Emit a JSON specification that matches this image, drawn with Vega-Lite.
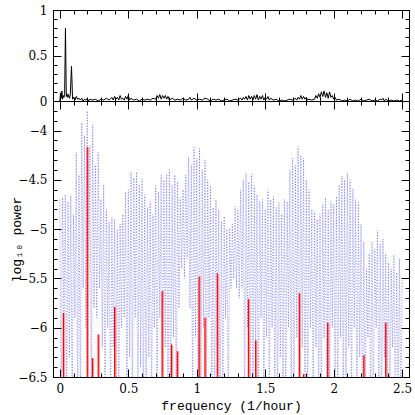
{
  "$schema": "https://vega.github.io/schema/vega-lite/v6.json",
  "padding": {"left": 10, "top": 3, "right": 5, "bottom": 2},
  "spacing": 0,
  "bounds": "flush",
  "config": {
    "view": {"stroke": "black", "strokeWidth": 1},
    "axis": {"grid": false, "domainColor": "black", "domainWidth": 1, "tickColor": "black", "tickWidth": 1, "labelColor": "black", "labelFont": "DejaVu Serif", "labelFontSize": 12, "titleFont": "Liberation Mono", "titleFontSize": 13, "titleFontWeight": "normal", "titleColor": "black", "format": "~g"}
  },
  "datasets": {
    "top": [
      {"f":0.000,"p":0.00},{"f":0.005,"p":0.09},{"f":0.010,"p":0.03},{"f":0.015,"p":0.11},{"f":0.020,"p":0.02},{"f":0.025,"p":0.06},{"f":0.030,"p":0.04},{"f":0.035,"p":0.07},{"f":0.041,"p":0.80},{"f":0.047,"p":0.05},{"f":0.052,"p":0.08},{"f":0.058,"p":0.04},{"f":0.064,"p":0.07},{"f":0.070,"p":0.03},{"f":0.076,"p":0.06},{"f":0.085,"p":0.38},{"f":0.093,"p":0.02},{"f":0.100,"p":0.04},{"f":0.110,"p":0.01},{"f":0.120,"p":0.05},{"f":0.130,"p":0.02},{"f":0.140,"p":0.03},{"f":0.150,"p":0.01},{"f":0.160,"p":0.03},{"f":0.170,"p":0.00},{"f":0.180,"p":0.02},{"f":0.190,"p":0.01},{"f":0.200,"p":0.03},{"f":0.210,"p":0.00},{"f":0.220,"p":0.02},{"f":0.240,"p":0.01},{"f":0.260,"p":0.02},{"f":0.280,"p":0.00},{"f":0.300,"p":0.02},{"f":0.320,"p":0.01},{"f":0.340,"p":0.03},{"f":0.360,"p":0.01},{"f":0.380,"p":0.04},{"f":0.390,"p":0.01},{"f":0.400,"p":0.05},{"f":0.410,"p":0.02},{"f":0.420,"p":0.04},{"f":0.430,"p":0.01},{"f":0.440,"p":0.06},{"f":0.450,"p":0.02},{"f":0.460,"p":0.03},{"f":0.470,"p":0.01},{"f":0.480,"p":0.05},{"f":0.490,"p":0.02},{"f":0.500,"p":0.06},{"f":0.510,"p":0.01},{"f":0.520,"p":0.03},{"f":0.540,"p":0.01},{"f":0.560,"p":0.02},{"f":0.580,"p":0.00},{"f":0.600,"p":0.02},{"f":0.620,"p":0.01},{"f":0.640,"p":0.02},{"f":0.660,"p":0.01},{"f":0.680,"p":0.03},{"f":0.700,"p":0.02},{"f":0.710,"p":0.06},{"f":0.720,"p":0.03},{"f":0.730,"p":0.07},{"f":0.740,"p":0.02},{"f":0.750,"p":0.06},{"f":0.760,"p":0.03},{"f":0.770,"p":0.06},{"f":0.780,"p":0.02},{"f":0.790,"p":0.05},{"f":0.800,"p":0.01},{"f":0.820,"p":0.03},{"f":0.840,"p":0.01},{"f":0.860,"p":0.02},{"f":0.880,"p":0.01},{"f":0.900,"p":0.03},{"f":0.920,"p":0.01},{"f":0.940,"p":0.02},{"f":0.950,"p":0.04},{"f":0.960,"p":0.01},{"f":0.980,"p":0.03},{"f":1.000,"p":0.01},{"f":1.020,"p":0.02},{"f":1.040,"p":0.01},{"f":1.060,"p":0.03},{"f":1.080,"p":0.02},{"f":1.100,"p":0.00},{"f":1.120,"p":0.02},{"f":1.140,"p":0.01},{"f":1.160,"p":0.02},{"f":1.180,"p":0.00},{"f":1.200,"p":0.01},{"f":1.220,"p":0.02},{"f":1.240,"p":0.00},{"f":1.260,"p":0.01},{"f":1.280,"p":0.02},{"f":1.300,"p":0.01},{"f":1.320,"p":0.03},{"f":1.330,"p":0.01},{"f":1.340,"p":0.04},{"f":1.350,"p":0.02},{"f":1.360,"p":0.05},{"f":1.370,"p":0.01},{"f":1.380,"p":0.06},{"f":1.390,"p":0.02},{"f":1.400,"p":0.05},{"f":1.410,"p":0.01},{"f":1.420,"p":0.06},{"f":1.430,"p":0.02},{"f":1.440,"p":0.07},{"f":1.450,"p":0.01},{"f":1.460,"p":0.05},{"f":1.470,"p":0.02},{"f":1.480,"p":0.06},{"f":1.490,"p":0.01},{"f":1.500,"p":0.04},{"f":1.510,"p":0.02},{"f":1.520,"p":0.05},{"f":1.530,"p":0.01},{"f":1.540,"p":0.03},{"f":1.560,"p":0.01},{"f":1.580,"p":0.02},{"f":1.600,"p":0.00},{"f":1.620,"p":0.01},{"f":1.640,"p":0.00},{"f":1.660,"p":0.01},{"f":1.680,"p":0.02},{"f":1.700,"p":0.01},{"f":1.720,"p":0.03},{"f":1.730,"p":0.01},{"f":1.740,"p":0.04},{"f":1.750,"p":0.02},{"f":1.760,"p":0.06},{"f":1.770,"p":0.02},{"f":1.780,"p":0.05},{"f":1.790,"p":0.02},{"f":1.800,"p":0.04},{"f":1.810,"p":0.01},{"f":1.820,"p":0.02},{"f":1.840,"p":0.01},{"f":1.860,"p":0.02},{"f":1.870,"p":0.06},{"f":1.880,"p":0.03},{"f":1.890,"p":0.08},{"f":1.900,"p":0.04},{"f":1.910,"p":0.10},{"f":1.920,"p":0.05},{"f":1.930,"p":0.11},{"f":1.940,"p":0.04},{"f":1.950,"p":0.09},{"f":1.960,"p":0.03},{"f":1.970,"p":0.10},{"f":1.980,"p":0.04},{"f":1.990,"p":0.06},{"f":2.000,"p":0.02},{"f":2.010,"p":0.04},{"f":2.020,"p":0.01},{"f":2.040,"p":0.02},{"f":2.060,"p":0.00},{"f":2.080,"p":0.01},{"f":2.100,"p":0.00},{"f":2.120,"p":0.02},{"f":2.140,"p":0.00},{"f":2.160,"p":0.01},{"f":2.180,"p":0.00},{"f":2.200,"p":0.02},{"f":2.220,"p":0.00},{"f":2.240,"p":0.01},{"f":2.260,"p":0.02},{"f":2.280,"p":0.00},{"f":2.300,"p":0.01},{"f":2.320,"p":0.00},{"f":2.340,"p":0.02},{"f":2.350,"p":0.01},{"f":2.360,"p":0.03},{"f":2.370,"p":0.00},{"f":2.380,"p":0.02},{"f":2.400,"p":0.00},{"f":2.420,"p":0.01},{"f":2.440,"p":0.00},{"f":2.460,"p":0.01},{"f":2.480,"p":0.00},{"f":2.500,"p":0.01}
    ],
    "blue": [
      {"f":0.00,"p":-4.70},{"f":0.01,"p":-6.9},{"f":0.02,"p":-4.68},{"f":0.03,"p":-6.0},{"f":0.04,"p":-4.65},{"f":0.05,"p":-6.9},{"f":0.06,"p":-4.72},{"f":0.07,"p":-6.3},{"f":0.08,"p":-4.66},{"f":0.09,"p":-6.9},
      {"f":0.10,"p":-4.85},{"f":0.11,"p":-5.9},{"f":0.12,"p":-4.22},{"f":0.13,"p":-6.9},{"f":0.14,"p":-4.45},{"f":0.15,"p":-6.9},{"f":0.16,"p":-3.92},{"f":0.17,"p":-5.6},{"f":0.18,"p":-4.05},{"f":0.19,"p":-6.0},
      {"f":0.20,"p":-3.80},{"f":0.21,"p":-5.7},{"f":0.22,"p":-4.15},{"f":0.23,"p":-6.9},{"f":0.24,"p":-3.94},{"f":0.25,"p":-5.8},{"f":0.26,"p":-4.35},{"f":0.27,"p":-5.9},{"f":0.28,"p":-4.22},{"f":0.29,"p":-5.6},
      {"f":0.30,"p":-4.70},{"f":0.31,"p":-6.2},{"f":0.32,"p":-4.55},{"f":0.33,"p":-6.9},{"f":0.34,"p":-4.80},{"f":0.35,"p":-6.0},{"f":0.36,"p":-4.92},{"f":0.37,"p":-6.9},{"f":0.38,"p":-4.88},{"f":0.39,"p":-6.2},
      {"f":0.40,"p":-4.90},{"f":0.41,"p":-6.9},{"f":0.42,"p":-5.00},{"f":0.43,"p":-6.9},{"f":0.44,"p":-4.95},{"f":0.45,"p":-6.0},{"f":0.46,"p":-4.85},{"f":0.47,"p":-5.9},{"f":0.48,"p":-4.62},{"f":0.49,"p":-6.9},
      {"f":0.50,"p":-4.60},{"f":0.51,"p":-6.3},{"f":0.52,"p":-4.42},{"f":0.53,"p":-6.9},{"f":0.54,"p":-4.48},{"f":0.55,"p":-5.9},{"f":0.56,"p":-4.42},{"f":0.57,"p":-6.9},{"f":0.58,"p":-4.55},{"f":0.59,"p":-6.4},
      {"f":0.60,"p":-4.49},{"f":0.61,"p":-6.9},{"f":0.62,"p":-4.65},{"f":0.63,"p":-6.9},{"f":0.64,"p":-4.78},{"f":0.65,"p":-6.3},{"f":0.66,"p":-4.72},{"f":0.67,"p":-6.9},{"f":0.68,"p":-4.85},{"f":0.69,"p":-6.0},
      {"f":0.70,"p":-4.56},{"f":0.71,"p":-6.9},{"f":0.72,"p":-4.62},{"f":0.73,"p":-5.9},{"f":0.74,"p":-4.45},{"f":0.75,"p":-6.9},{"f":0.76,"p":-4.50},{"f":0.77,"p":-6.2},{"f":0.78,"p":-4.44},{"f":0.79,"p":-6.9},
      {"f":0.80,"p":-4.40},{"f":0.81,"p":-6.9},{"f":0.82,"p":-4.55},{"f":0.83,"p":-6.1},{"f":0.84,"p":-4.45},{"f":0.85,"p":-6.9},{"f":0.86,"p":-4.52},{"f":0.87,"p":-5.8},{"f":0.88,"p":-4.68},{"f":0.89,"p":-5.4},
      {"f":0.90,"p":-4.60},{"f":0.91,"p":-5.5},{"f":0.92,"p":-4.45},{"f":0.93,"p":-5.3},{"f":0.94,"p":-4.27},{"f":0.95,"p":-5.8},{"f":0.96,"p":-4.35},{"f":0.97,"p":-6.9},{"f":0.98,"p":-4.17},{"f":0.99,"p":-6.1},
      {"f":1.00,"p":-4.28},{"f":1.01,"p":-6.9},{"f":1.02,"p":-4.18},{"f":1.03,"p":-6.9},{"f":1.04,"p":-4.40},{"f":1.05,"p":-6.0},{"f":1.06,"p":-4.30},{"f":1.07,"p":-6.9},{"f":1.08,"p":-4.50},{"f":1.09,"p":-5.9},
      {"f":1.10,"p":-4.56},{"f":1.11,"p":-6.9},{"f":1.12,"p":-4.78},{"f":1.13,"p":-6.9},{"f":1.14,"p":-4.70},{"f":1.15,"p":-6.2},{"f":1.16,"p":-4.80},{"f":1.17,"p":-6.9},{"f":1.18,"p":-4.92},{"f":1.19,"p":-6.9},
      {"f":1.20,"p":-4.87},{"f":1.21,"p":-5.9},{"f":1.22,"p":-5.00},{"f":1.23,"p":-6.9},{"f":1.24,"p":-4.99},{"f":1.25,"p":-5.6},{"f":1.26,"p":-4.95},{"f":1.27,"p":-5.5},{"f":1.28,"p":-4.77},{"f":1.29,"p":-5.6},
      {"f":1.30,"p":-4.80},{"f":1.31,"p":-5.7},{"f":1.32,"p":-4.60},{"f":1.33,"p":-5.6},{"f":1.34,"p":-4.50},{"f":1.35,"p":-6.9},{"f":1.36,"p":-4.43},{"f":1.37,"p":-6.0},{"f":1.38,"p":-4.52},{"f":1.39,"p":-6.9},
      {"f":1.40,"p":-4.44},{"f":1.41,"p":-6.9},{"f":1.42,"p":-4.56},{"f":1.43,"p":-6.2},{"f":1.44,"p":-4.65},{"f":1.45,"p":-6.9},{"f":1.46,"p":-4.72},{"f":1.47,"p":-5.9},{"f":1.48,"p":-4.70},{"f":1.49,"p":-6.9},
      {"f":1.50,"p":-4.80},{"f":1.51,"p":-6.1},{"f":1.52,"p":-4.60},{"f":1.53,"p":-6.9},{"f":1.54,"p":-4.70},{"f":1.55,"p":-6.0},{"f":1.56,"p":-4.67},{"f":1.57,"p":-6.9},{"f":1.58,"p":-4.78},{"f":1.59,"p":-6.9},
      {"f":1.60,"p":-4.73},{"f":1.61,"p":-6.3},{"f":1.62,"p":-4.85},{"f":1.63,"p":-6.9},{"f":1.64,"p":-4.70},{"f":1.65,"p":-6.9},{"f":1.66,"p":-4.72},{"f":1.67,"p":-6.0},{"f":1.68,"p":-4.40},{"f":1.69,"p":-6.9},
      {"f":1.70,"p":-4.28},{"f":1.71,"p":-6.9},{"f":1.72,"p":-4.35},{"f":1.73,"p":-6.1},{"f":1.74,"p":-4.16},{"f":1.75,"p":-6.9},{"f":1.76,"p":-4.25},{"f":1.77,"p":-6.2},{"f":1.78,"p":-4.28},{"f":1.79,"p":-6.9},
      {"f":1.80,"p":-4.50},{"f":1.81,"p":-6.9},{"f":1.82,"p":-4.60},{"f":1.83,"p":-6.0},{"f":1.84,"p":-4.80},{"f":1.85,"p":-6.9},{"f":1.86,"p":-4.83},{"f":1.87,"p":-6.2},{"f":1.88,"p":-4.90},{"f":1.89,"p":-6.9},
      {"f":1.90,"p":-4.85},{"f":1.91,"p":-6.9},{"f":1.92,"p":-4.75},{"f":1.93,"p":-6.1},{"f":1.94,"p":-4.68},{"f":1.95,"p":-6.9},{"f":1.96,"p":-4.80},{"f":1.97,"p":-6.9},{"f":1.98,"p":-4.72},{"f":1.99,"p":-6.0},
      {"f":2.00,"p":-4.75},{"f":2.01,"p":-6.9},{"f":2.02,"p":-4.67},{"f":2.03,"p":-6.9},{"f":2.04,"p":-4.55},{"f":2.05,"p":-6.1},{"f":2.06,"p":-4.46},{"f":2.07,"p":-6.9},{"f":2.08,"p":-4.50},{"f":2.09,"p":-6.9},
      {"f":2.10,"p":-4.43},{"f":2.11,"p":-6.2},{"f":2.12,"p":-4.50},{"f":2.13,"p":-6.9},{"f":2.14,"p":-4.59},{"f":2.15,"p":-6.0},{"f":2.16,"p":-4.70},{"f":2.17,"p":-6.9},{"f":2.18,"p":-4.73},{"f":2.19,"p":-6.3},
      {"f":2.20,"p":-4.95},{"f":2.21,"p":-6.9},{"f":2.22,"p":-5.13},{"f":2.23,"p":-6.9},{"f":2.24,"p":-5.40},{"f":2.25,"p":-6.1},{"f":2.26,"p":-5.25},{"f":2.27,"p":-6.9},{"f":2.28,"p":-5.13},{"f":2.29,"p":-6.9},
      {"f":2.30,"p":-5.20},{"f":2.31,"p":-6.0},{"f":2.32,"p":-5.01},{"f":2.33,"p":-6.9},{"f":2.34,"p":-5.15},{"f":2.35,"p":-6.9},{"f":2.36,"p":-5.10},{"f":2.37,"p":-6.3},{"f":2.38,"p":-5.25},{"f":2.39,"p":-6.9},
      {"f":2.40,"p":-5.34},{"f":2.41,"p":-6.9},{"f":2.42,"p":-5.40},{"f":2.43,"p":-6.2},{"f":2.44,"p":-5.26},{"f":2.45,"p":-6.9},{"f":2.46,"p":-5.44},{"f":2.47,"p":-6.9},{"f":2.48,"p":-5.30},{"f":2.49,"p":-6.9},
      {"f":2.50,"p":-5.50}
    ],
    "red": [
      {"f":0.026,"p":-5.85},{"f":0.200,"p":-4.17},{"f":0.238,"p":-6.31},{"f":0.280,"p":-6.07},{"f":0.400,"p":-5.79},{"f":0.747,"p":-5.63},{"f":0.815,"p":-6.17},{"f":0.858,"p":-6.24},{"f":1.017,"p":-5.48},{"f":1.060,"p":-5.90},{"f":1.150,"p":-5.45},{"f":1.377,"p":-5.71},{"f":1.430,"p":-6.13},{"f":1.749,"p":-5.65},{"f":1.780,"p":-6.47},{"f":1.956,"p":-5.95},{"f":2.220,"p":-6.28},{"f":2.380,"p":-5.95}
    ]
  },
  "vconcat": [
    {
      "width": 356,
      "height": 91,
      "data": {"name": "top"},
      "layer": [
        {
          "mark": {"type": "line", "color": "black", "strokeWidth": 1, "clip": true},
          "encoding": {
            "x": {"field": "f", "type": "quantitative", "scale": {"domain": [-0.05, 2.55], "nice": false, "zero": false},
              "axis": {"orient": "bottom", "title": null, "labels": false, "values": [0,0.1,0.2,0.3,0.4,0.5,0.6,0.7,0.8,0.9,1,1.1,1.2,1.3,1.4,1.5,1.6,1.7,1.8,1.9,2,2.1,2.2,2.3,2.4,2.5],
                "tickSize": {"condition": {"test": "abs(datum.value*2 - round(datum.value*2)) < 0.001", "value": -8}, "value": -4}}},
            "y": {"field": "p", "type": "quantitative", "scale": {"domain": [0, 1], "nice": false},
              "axis": {"orient": "left", "title": null, "values": [0,0.1,0.2,0.3,0.4,0.5,0.6,0.7,0.8,0.9,1], "labelPadding": 14,
                "labelExpr": "abs(datum.value*2 - round(datum.value*2)) < 0.001 ? datum.label : ''",
                "tickSize": {"condition": {"test": "abs(datum.value*2 - round(datum.value*2)) < 0.001", "value": -8}, "value": -4}}}
          }
        },
        {
          "mark": {"type": "point", "opacity": 0},
          "encoding": {
            "x": {"field": "f", "type": "quantitative",
              "axis": {"orient": "top", "title": null, "labels": false, "values": [0,0.1,0.2,0.3,0.4,0.5,0.6,0.7,0.8,0.9,1,1.1,1.2,1.3,1.4,1.5,1.6,1.7,1.8,1.9,2,2.1,2.2,2.3,2.4,2.5],
                "tickSize": {"condition": {"test": "abs(datum.value*2 - round(datum.value*2)) < 0.001", "value": -8}, "value": -4}}},
            "y": {"field": "p", "type": "quantitative",
              "axis": {"orient": "right", "title": null, "labels": false, "values": [0,0.1,0.2,0.3,0.4,0.5,0.6,0.7,0.8,0.9,1],
                "tickSize": {"condition": {"test": "abs(datum.value*2 - round(datum.value*2)) < 0.001", "value": -8}, "value": -4}}}
          }
        }
      ],
      "resolve": {"axis": {"x": "independent", "y": "independent"}}
    },
    {
      "width": 356,
      "height": 276,
      "layer": [
        {
          "data": {"name": "blue"},
          "mark": {"type": "line", "color": "#3a3aff", "strokeWidth": 1, "opacity": 0.5, "strokeDash": [1.2, 1.6], "clip": true},
          "encoding": {
            "x": {"field": "f", "type": "quantitative", "scale": {"domain": [-0.05, 2.55], "nice": false, "zero": false},
              "axis": {"orient": "bottom", "title": "frequency (1/hour)", "titlePadding": 5, "labelPadding": 14, "values": [0,0.1,0.2,0.3,0.4,0.5,0.6,0.7,0.8,0.9,1,1.1,1.2,1.3,1.4,1.5,1.6,1.7,1.8,1.9,2,2.1,2.2,2.3,2.4,2.5],
                "labelExpr": "abs(datum.value*2 - round(datum.value*2)) < 0.001 ? datum.label : ''",
                "tickSize": {"condition": {"test": "abs(datum.value*2 - round(datum.value*2)) < 0.001", "value": -8}, "value": -4}}},
            "y": {"field": "p", "type": "quantitative", "scale": {"domain": [-6.5, -3.7], "nice": false, "zero": false},
              "axis": {"orient": "left", "title": "log₁₀ power", "titlePadding": -6, "labelPadding": 14, "values": [-6.5,-6.4,-6.3,-6.2,-6.1,-6,-5.9,-5.8,-5.7,-5.6,-5.5,-5.4,-5.3,-5.2,-5.1,-5,-4.9,-4.8,-4.7,-4.6,-4.5,-4.4,-4.3,-4.2,-4.1,-4,-3.9,-3.8,-3.7],
                "labelExpr": "abs(datum.value*2 - round(datum.value*2)) < 0.001 ? datum.label : ''",
                "tickSize": {"condition": {"test": "abs(datum.value*2 - round(datum.value*2)) < 0.001", "value": -8}, "value": -4}}}
          }
        },
        {
          "data": {"name": "red"},
          "mark": {"type": "rule", "color": "#ffa0a0", "strokeWidth": 2, "xOffset": 0.8},
          "encoding": {
            "x": {"field": "f", "type": "quantitative", "axis": {"orient": "top", "title": null, "labels": false, "values": [0,0.1,0.2,0.3,0.4,0.5,0.6,0.7,0.8,0.9,1,1.1,1.2,1.3,1.4,1.5,1.6,1.7,1.8,1.9,2,2.1,2.2,2.3,2.4,2.5],
                "tickSize": {"condition": {"test": "abs(datum.value*2 - round(datum.value*2)) < 0.001", "value": -8}, "value": -4}}},
            "y": {"field": "p", "type": "quantitative", "axis": {"orient": "right", "title": null, "labels": false, "values": [-6.5,-6.4,-6.3,-6.2,-6.1,-6,-5.9,-5.8,-5.7,-5.6,-5.5,-5.4,-5.3,-5.2,-5.1,-5,-4.9,-4.8,-4.7,-4.6,-4.5,-4.4,-4.3,-4.2,-4.1,-4,-3.9,-3.8,-3.7],
                "tickSize": {"condition": {"test": "abs(datum.value*2 - round(datum.value*2)) < 0.001", "value": -8}, "value": -4}}},
            "y2": {"datum": -6.5}
          }
        },
        {
          "data": {"name": "red"},
          "mark": {"type": "rule", "color": "red", "strokeWidth": 1.2},
          "encoding": {
            "x": {"field": "f", "type": "quantitative", "axis": null},
            "y": {"field": "p", "type": "quantitative", "axis": null},
            "y2": {"datum": -6.5}
          }
        }
      ],
      "resolve": {"axis": {"x": "independent", "y": "independent"}}
    }
  ]
}
